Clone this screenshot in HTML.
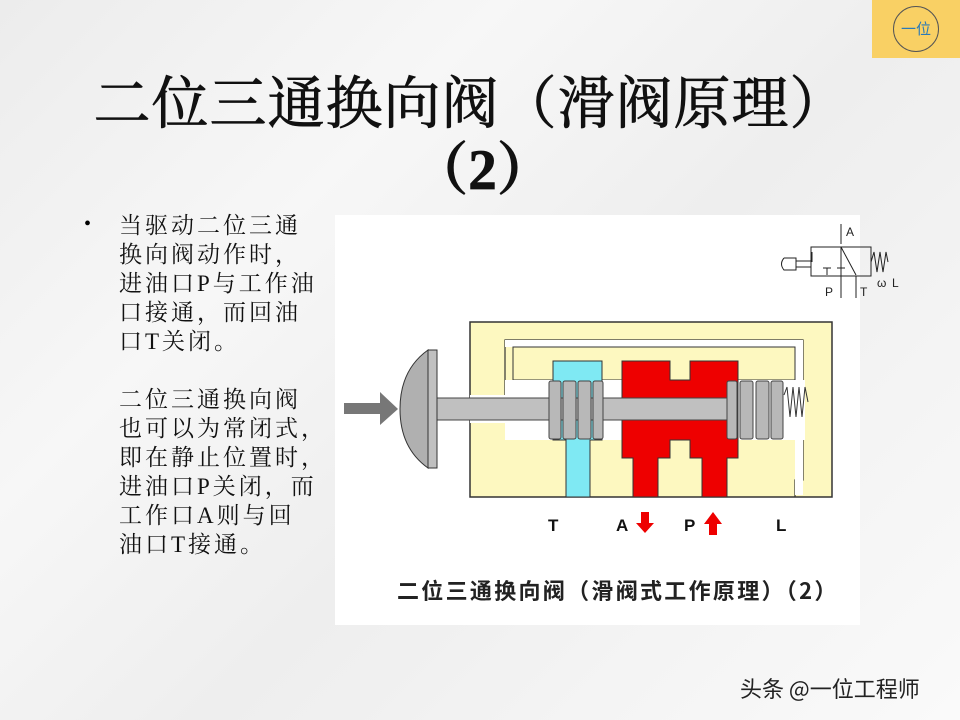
<!DOCTYPE html>
<html><head><meta charset="utf-8"><style>
body{margin:0;width:960px;height:720px;overflow:hidden;background:#f3f3f3;position:relative;font-family:"Liberation Serif","Noto Serif CJK SC",serif}
.bg{position:absolute;left:0;top:0;width:960px;height:720px;background:linear-gradient(135deg,#ececec 0%,#f7f7f7 30%,#eeeeee 55%,#fafafa 100%)}
.t{position:absolute;left:0;width:935px;text-align:center;font-size:57px;color:#111;white-space:nowrap;-webkit-text-stroke:0.8px #111}
.txt{position:absolute;left:119px;top:211px;font-size:23px;line-height:29px;color:#111;white-space:nowrap;letter-spacing:3px}
</style></head><body>
<div class="bg"></div>
<div style="position:absolute;left:335px;top:215px;width:525px;height:410px;background:#fff"></div>
<div style="position:absolute;left:872px;top:0;width:88px;height:58px;background:#f9d064"></div>
<div style="position:absolute;left:893px;top:6px;width:44px;height:44px;border:1px solid #555;border-radius:50%;font:15px 'Noto Sans CJK SC',sans-serif;color:#2a7ab8;text-align:center;line-height:44px">一位</div>
<div class="t" style="top:58px;left:3px;letter-spacing:1px">二位三通换向阀（滑阀原理）</div>
<div class="t" style="top:124px;left:15px;font-weight:bold">（2）</div>
<div style="position:absolute;left:84px;top:213px;font-size:20px">•</div>
<div class="txt">当驱动二位三通<br>换向阀动作时，<br>进油口P与工作油<br>口接通，而回油<br>口T关闭。<br><br>二位三通换向阀<br>也可以为常闭式，<br>即在静止位置时，<br>进油口P关闭，而<br>工作口A则与回<br>油口T接通。</div>
<svg style="position:absolute;left:0;top:0" width="960" height="720">
<rect x="470" y="322" width="362" height="175" fill="#fdf8c0" stroke="#333" stroke-width="1.5"/>
<path d="M505 395 V340 H803 V480 H795 V497" fill="none" stroke="#333" stroke-width="1.2"/>
<rect x="505" y="340" width="298" height="7" fill="#fff"/>
<rect x="795" y="340" width="8" height="155" fill="#fff"/>
<rect x="513" y="347" width="282" height="33" fill="#fdf8c0" stroke="#333" stroke-width="1"/>
<rect x="470" y="395" width="80" height="28" fill="#fff"/>
<rect x="505" y="380" width="300" height="60" fill="#fff"/>
<path d="M553 361 H602 V440 H590 V497 H566 V440 H553 Z" fill="#7fe9f3" stroke="#333"/>
<path d="M622 361 H670 V380 H690 V361 H738 V458 H727 V497 H702 V458 H690 V440 H670 V458 H658 V497 H633 V458 H622 Z" fill="#ee0000" stroke="#333"/>
<rect x="437" y="398" width="300" height="22" fill="#c0c0c0" stroke="#444"/>
<g fill="#b8b8b8" stroke="#444">
<rect x="549" y="381" width="12" height="58" rx="2"/><rect x="563" y="381" width="13" height="58" rx="2"/><rect x="578" y="381" width="13" height="58" rx="2"/><rect x="593" y="381" width="10" height="58" rx="2"/>
<rect x="727" y="381" width="10" height="58" rx="2"/><rect x="740" y="381" width="13" height="58" rx="2"/><rect x="756" y="381" width="13" height="58" rx="2"/><rect x="771" y="381" width="12" height="58" rx="2"/>
</g>
<path d="M784 395 l3 -8 l3 30 l3 -30 l3 30 l3 -30 l3 30 l3 -30 l3 15" stroke="#333" fill="none"/>
<path d="M428 350 Q400 370 400 409 Q400 448 428 468 Z" fill="#b0b0b0" stroke="#333"/>
<rect x="428" y="350" width="9" height="118" fill="#c0c0c0" stroke="#333"/>
<path d="M344 403 H380 V392 L398 409 L380 425 V414 H344 Z" fill="#777"/>
<g font-family="Liberation Sans,sans-serif" font-weight="bold" font-size="17" fill="#111">
<text x="548" y="531">T</text><text x="616" y="531">A</text><text x="684" y="531">P</text><text x="776" y="531">L</text></g>
<path d="M641 512 V523 H636 L645 533 L654 523 H649 V512 Z M709 535 V524 H704 L713 512 L722 524 H717 V535 Z" fill="#e00"/>
<g stroke="#222" fill="none" stroke-width="1">
<rect x="811" y="247" width="30" height="29"/><rect x="841" y="247" width="30" height="29"/>
<path d="M784 258 h12 v12 h-12 q-5 -6 0 -12 M796 261 h15 M796 267 h15"/>
<path d="M812 262 v-10 M841 244 v-20 M841 247 l15 28 M871 262 l3 -10 l3 20 l3 -20 l3 20 l3 -20 l2 10"/>
<path d="M827 275 v-7 M823 268 h8 M841 276 v22 M837 268 h8 M856 276 v22"/>
</g>
<g font-family="Liberation Sans,sans-serif" font-size="12" fill="#222"><text x="846" y="236">A</text><text x="825" y="296">P</text><text x="860" y="296">T</text><text x="892" y="287">L</text><text x="877" y="287">ω</text></g>
<text x="397" y="599" font-family="Noto Sans CJK SC,sans-serif" font-weight="bold" font-size="22" letter-spacing="2.3" fill="#222">二位三通换向阀（滑阀式工作原理）（2）</text>
<text x="740" y="697" font-family="Noto Sans CJK SC,sans-serif" font-size="22" fill="#222">头条 @一位工程师</text>
</svg>
</body></html>
